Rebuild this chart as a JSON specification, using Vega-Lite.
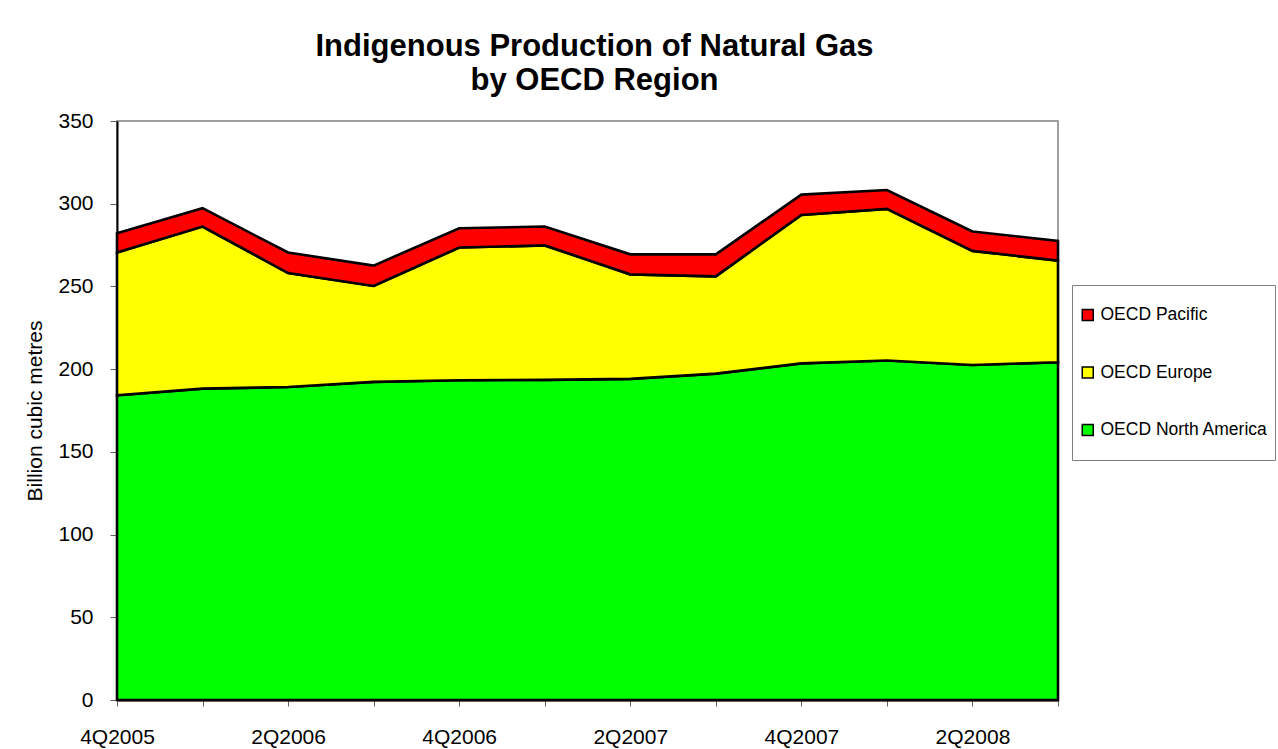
{
  "$schema": "https://vega.github.io/schema/vega-lite/v6.json",
  "width": 941,
  "height": 579,
  "autosize": {"type": "none"},
  "padding": {"left": 117, "top": 121, "right": 220, "bottom": 49},
  "background": "white",
  "config": {
    "font": "Liberation Sans",
    "view": {"stroke": "#808080", "strokeWidth": 1.5}
  },
  "title": {
    "text": ["Indigenous Production of Natural Gas", "by OECD Region"],
    "fontSize": 31,
    "fontWeight": "bold",
    "font": "Liberation Sans",
    "color": "black",
    "anchor": "middle",
    "lineHeight": 34,
    "offset": 13,
    "dx": 7
  },
  "data": {
    "values": [
      {"q": "4Q2005", "region": "OECD North America", "ord": 1, "v": 184.2},
      {"q": "1Q2006", "region": "OECD North America", "ord": 1, "v": 188.2},
      {"q": "2Q2006", "region": "OECD North America", "ord": 1, "v": 189.2},
      {"q": "3Q2006", "region": "OECD North America", "ord": 1, "v": 192.3},
      {"q": "4Q2006", "region": "OECD North America", "ord": 1, "v": 193.3},
      {"q": "1Q2007", "region": "OECD North America", "ord": 1, "v": 193.5},
      {"q": "2Q2007", "region": "OECD North America", "ord": 1, "v": 194.1},
      {"q": "3Q2007", "region": "OECD North America", "ord": 1, "v": 197.3},
      {"q": "4Q2007", "region": "OECD North America", "ord": 1, "v": 203.5},
      {"q": "1Q2008", "region": "OECD North America", "ord": 1, "v": 205.2},
      {"q": "2Q2008", "region": "OECD North America", "ord": 1, "v": 202.5},
      {"q": "3Q2008", "region": "OECD North America", "ord": 1, "v": 204.2},
      {"q": "4Q2005", "region": "OECD Europe", "ord": 2, "v": 86.3},
      {"q": "1Q2006", "region": "OECD Europe", "ord": 2, "v": 98.0},
      {"q": "2Q2006", "region": "OECD Europe", "ord": 2, "v": 68.9},
      {"q": "3Q2006", "region": "OECD Europe", "ord": 2, "v": 58.0},
      {"q": "4Q2006", "region": "OECD Europe", "ord": 2, "v": 80.2},
      {"q": "1Q2007", "region": "OECD Europe", "ord": 2, "v": 81.3},
      {"q": "2Q2007", "region": "OECD Europe", "ord": 2, "v": 63.2},
      {"q": "3Q2007", "region": "OECD Europe", "ord": 2, "v": 58.8},
      {"q": "4Q2007", "region": "OECD Europe", "ord": 2, "v": 89.7},
      {"q": "1Q2008", "region": "OECD Europe", "ord": 2, "v": 91.7},
      {"q": "2Q2008", "region": "OECD Europe", "ord": 2, "v": 69.0},
      {"q": "3Q2008", "region": "OECD Europe", "ord": 2, "v": 61.4},
      {"q": "4Q2005", "region": "OECD Pacific", "ord": 3, "v": 11.7},
      {"q": "1Q2006", "region": "OECD Pacific", "ord": 3, "v": 11.1},
      {"q": "2Q2006", "region": "OECD Pacific", "ord": 3, "v": 12.4},
      {"q": "3Q2006", "region": "OECD Pacific", "ord": 3, "v": 12.3},
      {"q": "4Q2006", "region": "OECD Pacific", "ord": 3, "v": 11.7},
      {"q": "1Q2007", "region": "OECD Pacific", "ord": 3, "v": 11.4},
      {"q": "2Q2007", "region": "OECD Pacific", "ord": 3, "v": 12.1},
      {"q": "3Q2007", "region": "OECD Pacific", "ord": 3, "v": 13.3},
      {"q": "4Q2007", "region": "OECD Pacific", "ord": 3, "v": 12.3},
      {"q": "1Q2008", "region": "OECD Pacific", "ord": 3, "v": 11.4},
      {"q": "2Q2008", "region": "OECD Pacific", "ord": 3, "v": 11.7},
      {"q": "3Q2008", "region": "OECD Pacific", "ord": 3, "v": 11.9}
    ]
  },
  "mark": {"type": "area", "stroke": "black", "strokeWidth": 2.6, "strokeJoin": "miter", "opacity": 1},
  "encoding": {
    "x": {
      "field": "q",
      "type": "ordinal",
      "sort": null,
      "scale": {"type": "point", "padding": 0},
      "axis": {
        "title": null,
        "labelAngle": 0,
        "labelFontSize": 21,
        "labelColor": "black",
        "labelExpr": "indexof(['4Q2005','2Q2006','4Q2006','2Q2007','4Q2007','2Q2008'], datum.value) >= 0 ? datum.value : ''",
        "labelPadding": 20,
        "tickSize": 6,
        "tickColor": "#606060",
        "domainColor": "black",
        "domainWidth": 2,
        "grid": false
      }
    },
    "y": {
      "field": "v",
      "type": "quantitative",
      "stack": "zero",
      "scale": {"domain": [0, 350], "nice": false},
      "axis": {
        "title": "Billion cubic metres",
        "titleFontSize": 21,
        "titleFontWeight": "normal",
        "titleColor": "black",
        "titlePadding": 12,
        "values": [0, 50, 100, 150, 200, 250, 300, 350],
        "labelFontSize": 21,
        "labelColor": "black",
        "labelPadding": 17,
        "tickSize": 7,
        "tickColor": "#606060",
        "domainColor": "black",
        "domainWidth": 2,
        "grid": false
      }
    },
    "color": {
      "field": "region",
      "type": "nominal",
      "scale": {
        "domain": ["OECD Pacific", "OECD Europe", "OECD North America"],
        "range": ["#ff0000", "#ffff00", "#00ff00"]
      },
      "legend": {
        "title": null,
        "orient": "none",
        "legendX": 955,
        "legendY": 164,
        "symbolType": "square",
        "symbolSize": 121,
        "symbolStrokeColor": "black",
        "symbolStrokeWidth": 1.5,
        "symbolOpacity": 1,
        "labelFontSize": 17.5,
        "labelColor": "black",
        "labelOffset": 4,
        "labelLimit": 300,
        "clipHeight": 46,
        "rowPadding": 11.5,
        "padding": 7,
        "strokeColor": "#808080",
        "fillColor": "white"
      }
    },
    "order": {"field": "ord", "type": "quantitative", "sort": "ascending"}
  }
}
